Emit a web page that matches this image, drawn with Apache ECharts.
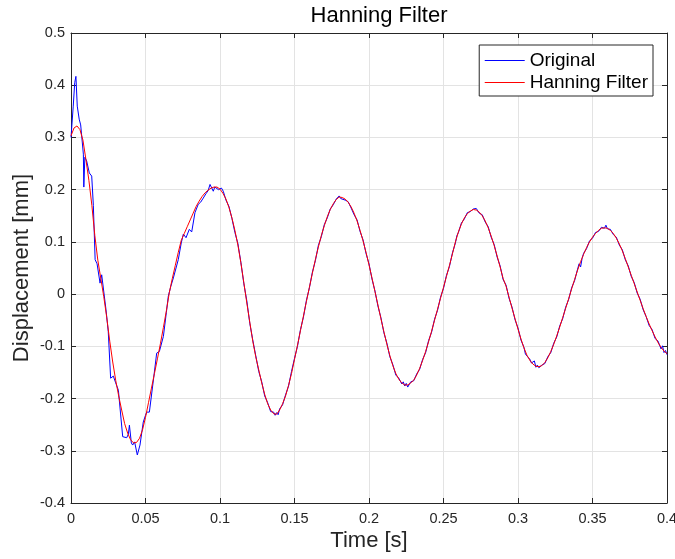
<!DOCTYPE html>
<html>
<head>
<meta charset="utf-8">
<script src="https://cdn.jsdelivr.net/npm/echarts@6/dist/echarts.min.js"></script>
<style>html,body{margin:0;padding:0;background:#fff}#c{width:675px;height:559px}</style>
</head>
<body>
<div id="c"></div>
<script>
var xTicks = ['0','0.05','0.1','0.15','0.2','0.25','0.3','0.35','0.4'];
var yTicks = ['-0.4','-0.3','-0.2','-0.1','0','0.1','0.2','0.3','0.4','0.5'];
var seriesNames = ['Original', 'Hanning Filter'];

var origTime = [0,0.0015,0.0025,0.0033,0.0042,0.0055,0.0065,0.0083,0.0086,0.0090,0.0093,0.0105,0.0123,0.0139,0.0150,0.0162,0.0175,0.0195,0.0206,0.0217,0.0235,0.0250,0.0266,0.0284,0.0300,0.0318,0.0347,0.0374,0.0385,0.0392,0.0405,0.0414,0.0427,0.0445,0.0463,0.0485,0.0500,0.0508,0.0526,0.0555,0.0575,0.0593,0.0620,0.0640,0.0653,0.0670,0.0687,0.0705,0.0720,0.0740,0.0754,0.0772,0.0794,0.0810,0.0832,0.0854,0.0870,0.0888,0.0905,0.0920,0.0933,0.0945,0.0955,0.0965,0.0978,0.0990,0.1010,0.1022,
0.104,0.106,0.108,0.110,0.112,0.114,0.116,0.118,0.120,0.122,0.124,0.126,0.128,0.130,0.132,0.134,0.136,0.137,0.138,0.139,0.140,0.142,0.144,0.146,0.148,0.150,0.152,0.154,0.156,0.158,0.160,0.162,0.164,0.166,0.168,0.170,0.172,0.174,0.176,0.178,0.179,0.180,0.181,0.182,0.184,0.186,0.188,0.190,0.192,0.194,0.196,0.198,0.200,0.202,0.204,0.206,0.208,0.210,0.212,0.214,0.216,0.218,0.220,0.222,0.223,0.224,0.225,0.226,0.228,0.230,0.232,0.234,0.236,0.238,0.240,0.242,0.244,0.246,0.248,0.250,0.252,0.254,0.256,0.258,0.259,0.260,0.262,0.264,0.266,0.268,0.270,0.271,0.272,0.274,0.276,0.278,0.280,0.282,0.284,0.286,0.288,0.290,0.292,0.294,0.296,0.298,0.300,0.302,0.304,0.305,0.306,0.308,0.309,0.310,0.311,0.312,0.313,0.314,0.316,0.318,0.320,0.322,0.324,0.326,0.328,0.330,0.332,0.334,0.336,0.338,0.340,0.341,0.342,0.343,0.344,0.346,0.348,0.350,0.352,0.354,0.356,0.357,0.358,0.359,0.360,0.362,0.364,0.366,0.368,0.370,0.372,0.374,0.376,0.378,0.380,0.382,0.384,0.386,0.388,0.390,0.392,0.394,0.396,0.397,0.398,0.399,0.400];
var origDisp = [0.30,0.36,0.405,0.417,0.36,0.335,0.324,0.268,0.205,0.205,0.262,0.255,0.232,0.226,0.170,0.066,0.058,0.021,0.037,0.037,-0.030,-0.072,-0.161,-0.157,-0.170,-0.184,-0.273,-0.275,-0.268,-0.251,-0.285,-0.289,-0.283,-0.308,-0.289,-0.245,-0.232,-0.226,-0.226,-0.160,-0.113,-0.110,-0.081,-0.035,-0.004,0.015,0.031,0.050,0.066,0.098,0.115,0.108,0.124,0.119,0.156,0.172,0.176,0.184,0.192,0.198,0.210,0.207,0.197,0.205,0.203,0.200,0.203,0.197,
0.180,0.168,0.145,0.118,0.097,0.061,0.020,-0.013,-0.056,-0.088,-0.118,-0.148,-0.168,-0.195,-0.208,-0.225,-0.226,-0.232,-0.227,-0.231,-0.220,-0.212,-0.193,-0.176,-0.148,-0.123,-0.100,-0.068,-0.044,-0.012,0.012,0.042,0.064,0.093,0.110,0.133,0.146,0.163,0.171,0.182,0.184,0.188,0.183,0.186,0.180,0.177,0.165,0.152,0.142,0.120,0.104,0.078,0.058,0.029,0.006,-0.023,-0.045,-0.074,-0.094,-0.120,-0.135,-0.155,-0.161,-0.172,-0.168,-0.176,-0.171,-0.178,-0.168,-0.166,-0.153,-0.144,-0.125,-0.112,-0.089,-0.073,-0.048,-0.031,-0.006,0.011,0.036,0.053,0.079,0.098,0.112,0.118,0.136,0.144,0.156,0.158,0.163,0.160,0.164,0.155,0.152,0.138,0.129,0.109,0.095,0.071,0.054,0.028,0.017,-0.008,-0.025,-0.049,-0.065,-0.088,-0.102,-0.115,-0.118,-0.125,-0.132,-0.133,-0.128,-0.140,-0.136,-0.141,-0.136,-0.133,-0.120,-0.112,-0.094,-0.082,-0.061,-0.047,-0.025,-0.010,0.012,0.026,0.048,0.058,0.052,0.068,0.078,0.087,0.102,0.107,0.118,0.120,0.128,0.131,0.126,0.132,0.125,0.124,0.114,0.109,0.094,0.085,0.066,0.054,0.034,0.022,0.002,-0.010,-0.030,-0.043,-0.060,-0.068,-0.085,-0.090,-0.105,-0.099,-0.112,-0.108,-0.116];

var filtTime = [0,0.002,0.004,0.006,0.008,0.010,0.012,0.014,0.016,0.018,0.020,0.022,0.024,0.026,0.028,0.030,0.032,0.034,0.036,0.038,0.040,0.042,0.044,0.046,0.048,0.050,0.052,0.054,0.056,0.058,0.060,0.062,0.064,0.066,0.068,0.070,0.072,0.074,0.076,0.078,0.080,0.082,0.084,0.086,0.088,0.090,0.092,0.094,0.096,0.098,0.100,0.102,0.104,0.106,0.108,0.110,0.112,0.114,0.116,0.118,0.120,0.122,0.124,0.126,0.128,0.130,0.132,0.134,0.136,0.138,0.140,0.142,0.144,0.146,0.148,0.150,0.152,0.154,0.156,0.158,0.160,0.162,0.164,0.166,0.168,0.170,0.172,0.174,0.176,0.178,0.180,0.182,0.184,0.186,0.188,0.190,0.192,0.194,0.196,0.198,0.200,0.202,0.204,0.206,0.208,0.210,0.212,0.214,0.216,0.218,0.220,0.222,0.224,0.226,0.228,0.230,0.232,0.234,0.236,0.238,0.240,0.242,0.244,0.246,0.248,0.250,0.252,0.254,0.256,0.258,0.260,0.262,0.264,0.266,0.268,0.270,0.272,0.274,0.276,0.278,0.280,0.282,0.284,0.286,0.288,0.290,0.292,0.294,0.296,0.298,0.300,0.302,0.304,0.306,0.308,0.310,0.312,0.314,0.316,0.318,0.320,0.322,0.324,0.326,0.328,0.330,0.332,0.334,0.336,0.338,0.340,0.342,0.344,0.346,0.348,0.350,0.352,0.354,0.356,0.358,0.360,0.362,0.364,0.366,0.368,0.370,0.372,0.374,0.376,0.378,0.380,0.382,0.384,0.386,0.388,0.390,0.392,0.394,0.396,0.398,0.400];
var filtDisp = [0.303,0.318,0.322,0.315,0.295,0.258,0.218,0.170,0.112,0.065,0.030,-0.005,-0.045,-0.090,-0.130,-0.165,-0.195,-0.222,-0.248,-0.266,-0.279,-0.285,-0.284,-0.276,-0.260,-0.236,-0.208,-0.180,-0.152,-0.124,-0.095,-0.064,-0.032,0.003,0.030,0.055,0.080,0.103,0.116,0.129,0.142,0.155,0.168,0.178,0.187,0.194,0.199,0.203,0.205,0.205,0.201,0.193,0.182,0.166,0.146,0.122,0.094,0.060,0.022,-0.017,-0.054,-0.090,-0.120,-0.145,-0.170,-0.192,-0.210,-0.222,-0.229,-0.230,-0.222,-0.210,-0.195,-0.175,-0.152,-0.125,-0.098,-0.070,-0.042,-0.014,0.013,0.040,0.066,0.090,0.112,0.131,0.148,0.162,0.173,0.181,0.186,0.185,0.182,0.176,0.167,0.155,0.140,0.122,0.102,0.080,0.056,0.031,0.005,-0.021,-0.047,-0.072,-0.096,-0.118,-0.137,-0.152,-0.163,-0.170,-0.174,-0.174,-0.170,-0.165,-0.155,-0.142,-0.127,-0.110,-0.091,-0.071,-0.050,-0.029,-0.008,0.013,0.034,0.055,0.077,0.100,0.119,0.134,0.146,0.154,0.159,0.162,0.161,0.157,0.150,0.140,0.127,0.111,0.093,0.073,0.052,0.030,0.015,-0.006,-0.027,-0.047,-0.067,-0.086,-0.103,-0.117,-0.127,-0.134,-0.138,-0.139,-0.137,-0.131,-0.122,-0.110,-0.096,-0.080,-0.063,-0.045,-0.027,-0.009,0.010,0.028,0.046,0.062,0.076,0.089,0.100,0.109,0.116,0.122,0.126,0.127,0.126,0.122,0.116,0.107,0.096,0.083,0.068,0.052,0.036,0.020,0.004,-0.012,-0.028,-0.043,-0.057,-0.070,-0.082,-0.093,-0.102,-0.109,-0.114];

function pairs(t, v) { return t.map(function (x, i) { return [x, v[i]]; }); }

var FONT = 'Liberation Sans, Arial, Helvetica, sans-serif';
var AX = '#262626';
var chart = echarts.init(document.getElementById('c'), null, {renderer: 'canvas'});

var tickStyle = {show: true, inside: true, length: 5, lineStyle: {color: AX, width: 1}};
var option = {
  backgroundColor: '#fff',
  animation: false,
  title: {
    text: 'Hanning Filter', left: 374, top: 0, textAlign: 'center',
    textStyle: {fontFamily: FONT, fontSize: 22, fontWeight: 'normal', color: '#000'}
  },
  legend: {
    data: seriesNames,
    orient: 'vertical',
    right: 22, top: 45,
    padding: [6, 5, 4, 5],
    itemGap: 3,
    itemWidth: 40, itemHeight: 14,
    backgroundColor: '#fff',
    borderColor: AX, borderWidth: 1, borderRadius: 0,
    itemStyle: {color: 'rgba(0,0,0,0)', borderWidth: 0, opacity: 0},
    lineStyle: {width: 1},
    textStyle: {fontFamily: FONT, fontSize: 19, color: '#000'}
  },
  grid: {left: 71, right: 8, top: 33, bottom: 56, containLabel: false, outerBoundsMode: 'none'},
  xAxis: [{
    type: 'value', min: 0, max: 0.4, interval: 0.05, position: 'bottom',
    name: 'Time [s]', nameLocation: 'middle', nameGap: 27, nameMoveOverlap: false,
    nameTextStyle: {fontFamily: FONT, fontSize: 22, color: AX},
    axisLine: {show: true, onZero: false, lineStyle: {color: AX, width: 1}},
    axisTick: tickStyle,
    axisLabel: {fontFamily: FONT, fontSize: 14.5, color: AX, margin: 8,
      formatter: function (v) { var i = Math.round(v / 0.05); return xTicks[i] !== undefined ? xTicks[i] : ''; }},
    splitLine: {show: true, lineStyle: {color: '#e3e3e3', width: 1}}
  }, {
    type: 'value', min: 0, max: 0.4, interval: 0.05, position: 'top',
    axisLine: {show: true, onZero: false, lineStyle: {color: AX, width: 1}},
    axisTick: tickStyle, axisLabel: {show: false}, splitLine: {show: false}
  }],
  yAxis: [{
    type: 'value', min: -0.4, max: 0.5, interval: 0.1, position: 'left',
    name: 'Displacement [mm]', nameLocation: 'middle', nameGap: 38, nameMoveOverlap: false,
    nameTextStyle: {fontFamily: FONT, fontSize: 22, color: AX},
    axisLine: {show: true, onZero: false, lineStyle: {color: AX, width: 1}},
    axisTick: tickStyle,
    axisLabel: {fontFamily: FONT, fontSize: 14.5, color: AX, margin: 6,
      formatter: function (v) { var i = Math.round((v + 0.4) / 0.1); return yTicks[i] !== undefined ? yTicks[i] : ''; }},
    splitLine: {show: true, lineStyle: {color: '#e3e3e3', width: 1}}
  }, {
    type: 'value', min: -0.4, max: 0.5, interval: 0.1, position: 'right',
    axisLine: {show: true, onZero: false, lineStyle: {color: AX, width: 1}},
    axisTick: tickStyle, axisLabel: {show: false}, splitLine: {show: false}
  }],
  series: [{
    name: seriesNames[0], type: 'line', symbol: 'none', data: pairs(origTime, origDisp),
    lineStyle: {color: '#0000ff', width: 1}, itemStyle: {color: '#0000ff'}, z: 2
  }, {
    name: seriesNames[1], type: 'line', symbol: 'none', data: pairs(filtTime, filtDisp),
    lineStyle: {color: '#ff0000', width: 1}, itemStyle: {color: '#ff0000'}, z: 3
  }]
};
chart.setOption(option);
</script>
</body>
</html>
